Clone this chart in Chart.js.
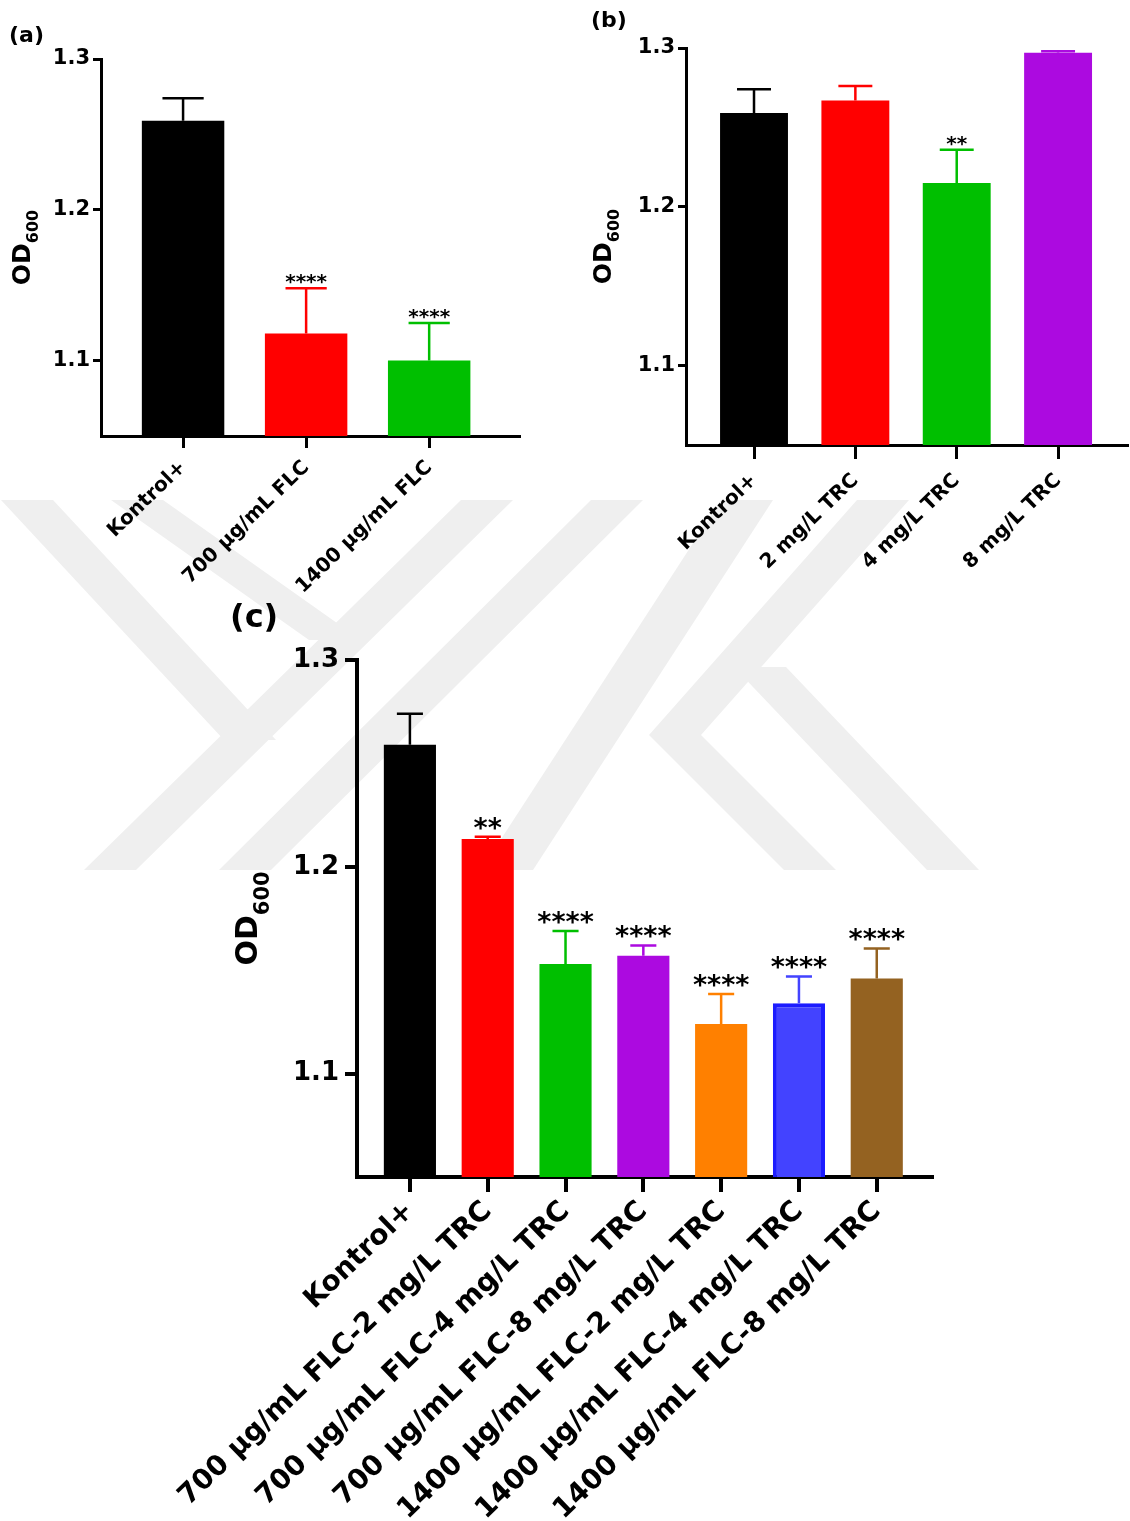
<!DOCTYPE html>
<html>
<head>
<meta charset="utf-8">
<script src="https://cdn.jsdelivr.net/npm/chart.js@4.4.1/dist/chart.umd.min.js"></script>
<style>
body { margin: 0; background: #fff; }
#page { position: relative; width: 1130px; height: 1521px; overflow: hidden; }
.box { position: absolute; }
</style>
</head>
<body>
<div id="page">
<canvas id="wm" width="1130" height="1521" style="position:absolute;left:0;top:0"></canvas>
<div class="box" style="left:0;top:0;width:560px;height:620px"><canvas id="chartA"></canvas></div>
<div class="box" style="left:560px;top:0;width:570px;height:620px"><canvas id="chartB"></canvas></div>
<div class="box" style="left:140px;top:580px;width:820px;height:941px"><canvas id="chartC"></canvas></div>
</div>
<script>
// ---- data ----
const yTicks = [1.1, 1.2, 1.3];
const yMin = 1.05;
const yMax = 1.3;

const labelsA = ['Kontrol+', '700 µg/mL FLC', '1400 µg/mL FLC'];
const meansA = [1.259, 1.118, 1.100];
const sdA = [0.015, 0.030, 0.025];
const starsA = ['', '****', '****'];
const colorsA = ['#000000', '#ff0000', '#00bf00'];

const labelsB = ['Kontrol+', '2 mg/L TRC', '4 mg/L TRC', '8 mg/L TRC'];
const meansB = [1.259, 1.267, 1.215, 1.297];
const sdB = [0.015, 0.009, 0.021, 0.001];
const starsB = ['', '', '**', ''];
const colorsB = ['#000000', '#ff0000', '#00bf00', '#ac0ae0'];

const labelsC = ['Kontrol+', '700 µg/mL FLC-2 mg/L TRC', '700 µg/mL FLC-4 mg/L TRC', '700 µg/mL FLC-8 mg/L TRC',
  '1400 µg/mL FLC-2 mg/L TRC', '1400 µg/mL FLC-4 mg/L TRC', '1400 µg/mL FLC-8 mg/L TRC'];
const meansC = [1.259, 1.2135, 1.153, 1.157, 1.124, 1.134, 1.146];
const sdC = [0.015, 0.001, 0.016, 0.005, 0.0145, 0.013, 0.0145];
const starsC = ['', '**', '****', '****', '****', '****', '****'];
const colorsC = ['#000000', '#ff0000', '#00bf00', '#ac0ae0', '#ff8000', '#4343ff', '#946221'];
const bordersC = ['#000000', '#ff0000', '#00bf00', '#ac0ae0', '#ff8000', '#1c1cff', '#946221'];
const borderWidthsC = [0, 0, 0, 0, 0, 4, 0];

// ---- background watermark ----
const wmBands = [
  [27, 500, 250, 740], [137, 500, 335, 640], [487, 500, 110, 870], [617, 500, 245, 870],
  [747, 500, 507, 870], [883, 500, 675, 735], [675, 735, 810, 870], [760, 667, 953, 870]
];
(function () {
  const g = document.getElementById('wm').getContext('2d');
  g.fillStyle = '#efefef';
  wmBands.forEach(([x1, y1, x2, y2]) => {
    g.beginPath();
    g.moveTo(x1 - 26, y1); g.lineTo(x1 + 26, y1);
    g.lineTo(x2 + 26, y2); g.lineTo(x2 - 26, y2);
    g.closePath(); g.fill();
  });
})();

// error bars, stars, y title, panel letter
const extras = {
  id: 'extras',
  afterDatasetsDraw(chart, args, o) {
    const ctx = chart.ctx, y = chart.scales.y;
    const meta = chart.getDatasetMeta(0);
    ctx.save();
    meta.data.forEach((bar, i) => {
      const top = y.getPixelForValue(o.means[i] + o.sds[i]);
      const half = bar.width / 4;
      ctx.strokeStyle = o.colors[i];
      ctx.lineWidth = o.errWidth;
      ctx.beginPath();
      ctx.moveTo(bar.x, bar.y);
      ctx.lineTo(bar.x, top);
      ctx.moveTo(bar.x - half, top);
      ctx.lineTo(bar.x + half, top);
      ctx.stroke();
      if (o.stars[i]) {
        ctx.fillStyle = '#000';
        ctx.font = o.starFont;
        ctx.textAlign = 'center';
        ctx.textBaseline = 'alphabetic';
        ctx.fillText(o.stars[i], bar.x, top + o.starShift);
      }
    });
    ctx.restore();
  },
  afterDraw(chart, args, o) {
    const ctx = chart.ctx, a = chart.chartArea;
    ctx.save();
    ctx.fillStyle = '#000';
    ctx.textAlign = 'left';
    ctx.textBaseline = 'alphabetic';
    ctx.translate(o.titleX, (a.top + a.bottom) / 2);
    ctx.rotate(-Math.PI / 2);
    ctx.font = o.titleFont;
    const w1 = ctx.measureText('OD').width;
    ctx.font = o.subFont;
    const w2 = ctx.measureText('600').width;
    const start = -(w1 + w2) / 2;
    ctx.font = o.titleFont;
    ctx.fillText('OD', start, 0);
    ctx.font = o.subFont;
    ctx.fillText('600', start + w1, o.subShift);
    ctx.restore();

    ctx.save();
    ctx.fillStyle = '#000';
    ctx.font = o.letterFont;
    ctx.textAlign = 'left';
    ctx.textBaseline = 'alphabetic';
    ctx.fillText(o.letter, o.letterX, o.letterY);
    ctx.restore();
  }
};

function makeChart(id, p) {
  const bold = size => ({ family: 'DejaVu Sans', weight: 'bold', size: size });
  return new Chart(document.getElementById(id), {
    type: 'bar',
    data: {
      datasets: [{
        data: p.means.map((v, i) => ({ x: i, y: v })),
        backgroundColor: p.colors,
        borderColor: p.borders || p.colors,
        borderWidth: p.borderWidths || 0,
        barPercentage: 0.67,
        categoryPercentage: 1,
        base: yMin
      }]
    },
    options: {
      responsive: true,
      maintainAspectRatio: false,
      animation: false,
      layout: { padding: { left: 0, top: p.top, right: p.right, bottom: 0 } },
      plugins: {
        legend: { display: false },
        tooltip: { enabled: false },
        extras: {
          means: p.means, sds: p.sds, stars: p.stars, colors: p.errColors || p.colors,
          errWidth: p.errWidth, starFont: p.starFont, starShift: p.starShift,
          titleX: p.titleX, titleFont: p.titleFont, subFont: p.subFont, subShift: p.subShift,
          letter: p.letter, letterFont: p.letterFont, letterX: p.letterX, letterY: p.letterY
        }
      },
      scales: {
        x: {
          type: 'linear',
          min: p.xMin,
          max: p.xMax,
          offset: false,
          afterBuildTicks: s => { s.ticks = p.labels.map((_, i) => ({ value: i })); },
          afterFit: s => { s.height = p.xHeight; },
          ticks: {
            autoSkip: false, minRotation: 44, maxRotation: 44, padding: p.xPad,
            color: '#000', font: bold(p.xFont),
            callback: v => p.labels[v]
          },
          grid: { drawOnChartArea: false, offset: false, color: '#000', lineWidth: p.axisWidth, tickLength: p.xTick },
          border: { display: true, color: '#000', width: p.axisWidth },
          z: 1
        },
        y: {
          min: yMin,
          max: yMax,
          afterBuildTicks: s => { s.ticks = yTicks.map(v => ({ value: v })); },
          afterFit: s => { s.width = p.yWidth; },
          ticks: { color: '#000', padding: p.yPad, font: bold(p.yFont), callback: v => v.toFixed(1) },
          grid: { drawOnChartArea: false, color: '#000', lineWidth: p.axisWidth, tickLength: p.yTick },
          border: { display: true, color: '#000', width: p.axisWidth },
          z: 1
        }
      }
    },
    plugins: [extras]
  });
}

makeChart('chartA', {
  labels: labelsA, means: meansA, sds: sdA, stars: starsA, colors: colorsA,
  xMin: -0.667, xMax: 2.73, top: 59, right: 41, yWidth: 101, xHeight: 184,
  xFont: 20, yFont: 21, xPad: 8, yPad: 3, xTick: 12, yTick: 8, axisWidth: 3,
  errWidth: 2.5, starFont: 'bold 20px DejaVu Sans', starShift: 0,
  titleX: 30, titleFont: 'bold 25px DejaVu Sans', subFont: 'bold 16px DejaVu Sans', subShift: 8,
  letter: '(a)', letterFont: 'bold 22px DejaVu Sans', letterX: 9, letterY: 42
});

makeChart('chartB', {
  labels: labelsB, means: meansB, sds: sdB, stars: starsB, colors: colorsB,
  xMin: -0.671, xMax: 3.68, top: 48, right: 3, yWidth: 126, xHeight: 175,
  xFont: 20, yFont: 21, xPad: 10, yPad: 3, xTick: 14, yTick: 8, axisWidth: 3,
  errWidth: 2.5, starFont: 'bold 20px DejaVu Sans', starShift: 0,
  titleX: 51, titleFont: 'bold 25px DejaVu Sans', subFont: 'bold 16px DejaVu Sans', subShift: 8,
  letter: '(b)', letterFont: 'bold 22px DejaVu Sans', letterX: 31, letterY: 27
});

makeChart('chartC', {
  labels: labelsC, means: meansC, sds: sdC, stars: starsC, colors: colorsC,
  borders: bordersC, borderWidths: borderWidthsC,
  errColors: ['#000000', '#ff0000', '#00bf00', '#ac0ae0', '#ff8000', '#4343ff', '#946221'],
  xMin: -0.68, xMax: 6.71, top: 80, right: 28, yWidth: 217, xHeight: 344,
  xFont: 28, yFont: 26, xPad: 3, yPad: 6, xTick: 15, yTick: 12, axisWidth: 4,
  errWidth: 2.5, starFont: 'bold 27px DejaVu Sans', starShift: 0,
  titleX: 117, titleFont: 'bold 30px DejaVu Sans', subFont: 'bold 21px DejaVu Sans', subShift: 12,
  letter: '(c)', letterFont: 'bold 32px DejaVu Sans', letterX: 90, letterY: 47
});
</script>
</body>
</html>
